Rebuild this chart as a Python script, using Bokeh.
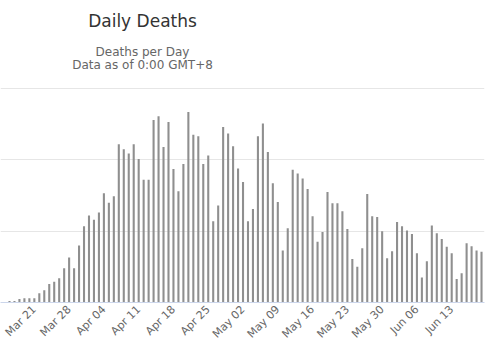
import math
from datetime import datetime, timedelta

from bokeh.plotting import figure
from bokeh.models import (Range1d, FixedTicker, DatetimeTickFormatter, Label,
                          ColumnDataSource)
from bokeh.embed import file_html
from bokeh.resources import INLINE

# ---------------- data ----------------
start_date = datetime(2020, 3, 16)
deaths = [2, 2, 5, 6, 6, 6, 13, 17, 26, 29,
          34, 48, 63, 48, 80, 107, 122, 116, 126, 153,
          140, 149, 222, 215, 209, 222, 201, 172, 172, 256,
          261, 218, 253, 187, 156, 194, 267, 235, 233, 194,
          206, 114, 136, 246, 237, 219, 188, 169, 114, 131,
          233, 251, 211, 167, 141, 73, 104, 186, 181, 174,
          159, 121, 85, 99, 155, 139, 139, 128, 103, 61,
          50, 76, 152, 121, 120, 100, 62, 72, 113, 107,
          101, 96, 69, 35, 58, 108, 97, 89, 78, 69,
          33, 41, 83, 79, 73, 71]
dates = [start_date + timedelta(days=i) for i in range(len(deaths))]

tick_dates = [datetime(2020, 3, 21) + timedelta(days=7 * k) for k in range(13)]
y_ticks = [0, 100, 200, 300]

title_text = "Daily Deaths"
subtitle_lines = ["Deaths per Day", "Data as of 0:00 GMT+8"]

# ---------------- layout geometry (pixels) ----------------
W, H = 495, 352
frame_bottom = 302          # pixel row of the x axis
grid_top_px = 88            # pixel row of the highest grid line
px_per_unit = (frame_bottom - grid_top_px) / y_ticks[-1]
y_end = frame_bottom / px_per_unit   # frame covers whole canvas height above axis

# ---------------- figure ----------------
src = ColumnDataSource(dict(date=dates, deaths=deaths))

p = figure(width=W, height=H, output_backend="svg", toolbar_location=None,
           x_axis_type="datetime",
           x_range=Range1d(start=start_date - timedelta(days=1.81),
                           end=start_date + timedelta(days=95.6)),
           y_range=Range1d(start=0, end=y_end),
           min_border_left=0, min_border_right=11,
           min_border_top=0, min_border_bottom=H - frame_bottom)
p.title.visible = False

p.vbar(x="date", top="deaths", width=0.42 * 86400000, source=src,
       color="#8f8f8f", line_color=None)

p.outline_line_color = None
p.background_fill_color = "white"
p.border_fill_color = "white"

p.yaxis.visible = False
p.ygrid.ticker = FixedTicker(ticks=y_ticks)
p.ygrid.grid_line_color = "#e6e6e6"
p.ygrid.grid_line_width = 1
p.xgrid.grid_line_color = None

xa = p.xaxis[0]
xa.ticker = FixedTicker(ticks=[d.timestamp() * 1000 for d in tick_dates])
fmt = "%b %d"
xa.formatter = DatetimeTickFormatter(days=fmt, months=fmt, hours=fmt,
                                     minutes=fmt, seconds=fmt, milliseconds=fmt,
                                     years=fmt, hourmin=fmt, minsec=fmt)
xa.major_label_orientation = math.pi / 4
xa.major_label_text_font = "DejaVu Sans"
xa.major_label_text_font_size = "11px"
xa.major_label_text_color = "#666666"
xa.major_tick_line_color = None
xa.minor_tick_line_color = None
xa.major_tick_out = 0
xa.major_tick_in = 0
xa.axis_line_color = "#ccd6eb"
xa.major_label_standoff = 5

# ---------------- titles ----------------
p.add_layout(Label(x=142, y=frame_bottom - 20, x_units="screen", y_units="screen",
                   text=title_text, text_align="center", text_baseline="alphabetic",
                   text_font="DejaVu Sans", text_font_size="17px",
                   text_color="#333333"))
for i, line in enumerate(subtitle_lines):
    p.add_layout(Label(x=142, y=frame_bottom - (51.5 + 12.8 * i), x_units="screen",
                       y_units="screen", text=line, text_align="center",
                       text_baseline="alphabetic", text_font="DejaVu Sans",
                       text_font_size="12px", text_color="#666666"))

open("out.html", "w").write(file_html(p, INLINE))
